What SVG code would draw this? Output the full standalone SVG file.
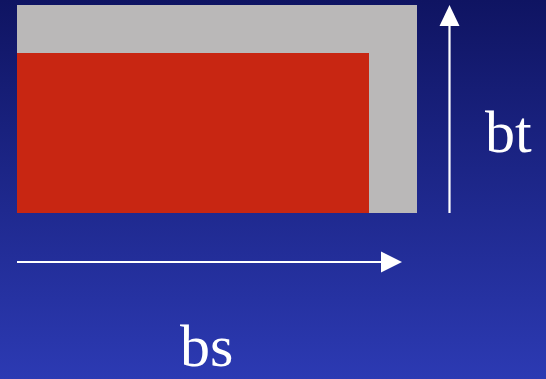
<svg xmlns="http://www.w3.org/2000/svg" width="546" height="379" viewBox="0 0 546 379">
<defs>
<linearGradient id="bg" x1="0" y1="0" x2="0" y2="1">
<stop offset="0" stop-color="#0f1462"/>
<stop offset="1" stop-color="#2c3ab3"/>
</linearGradient>
<style>
.lbl{font-family:"Liberation Serif","Times New Roman",serif;font-size:60px;fill:#ffffff}
.ln{stroke:#ffffff;stroke-width:2.2;fill:none}
.hd{fill:#ffffff}
</style>
</defs>
<rect x="0" y="0" width="546" height="379" fill="url(#bg)"/>
<g id="outer"><rect x="17" y="5" width="400" height="208" fill="#bab8b8"/></g>
<g id="inner"><rect x="17" y="53" width="352" height="160" fill="#c82612"/></g>
<g id="connectors">
<line class="ln" x1="449.5" y1="213" x2="449.5" y2="24"/>
<polygon class="hd" points="449.5,5 439.5,26 459.5,26"/>
<line class="ln" x1="17" y1="262" x2="382" y2="262"/>
<polygon class="hd" points="402,262 381,251.5 381,272.5"/>
</g>
<text class="lbl" x="485" y="152">bt</text>
<text class="lbl" x="180" y="366">bs</text>
</svg>
